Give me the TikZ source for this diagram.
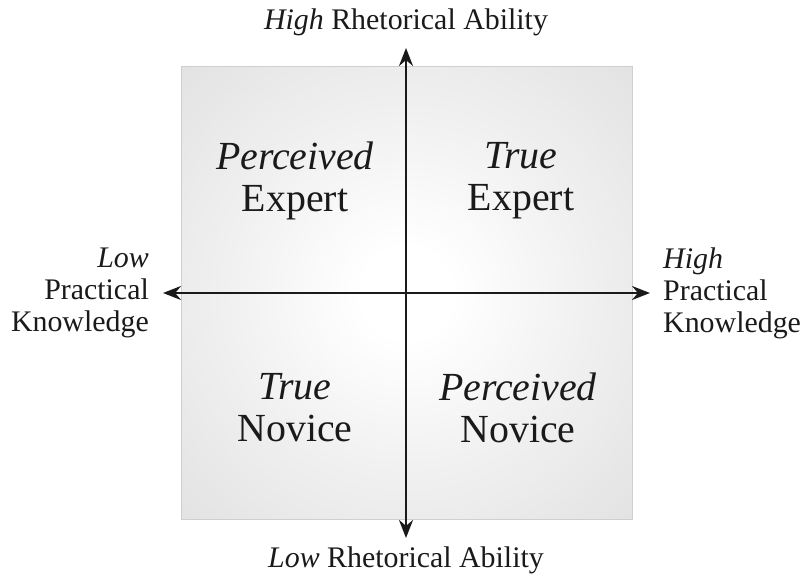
\documentclass[tikz,border=0pt]{standalone}
\usepackage{fontspec}
\setmainfont{Liberation Serif}
\usepackage{xcolor}
\usetikzlibrary{calc}
\usetikzlibrary{arrows.meta}

\definecolor{panelgray}{HTML}{DEDEDE}
\definecolor{panelline}{HTML}{CFCFCF}
\definecolor{axisblack}{HTML}{1A1A1A}
\pgfdeclareradialshading{panelshade}{\pgfpoint{0bp}{0bp}}{color(0bp)=(white); color(5bp)=(white); color(20bp)=(panelgray!45!white); color(35bp)=(panelgray!85!white); color(48bp)=(panelgray); color(100bp)=(panelgray)}

\tikzset{
	quadlabel/.style={align=center, font=\fontsize{40}{42}\selectfont, text=axisblack, inner sep=0pt},
	sidelabel/.style={font=\fontsize{30}{32}\selectfont, text=axisblack, inner sep=0pt},
	axisarrow/.style={axisblack, line width=2.2bp, {Stealth[length=18bp,width=14bp]}-{Stealth[length=18bp,width=14bp]}}
}

\begin{document}
\begin{tikzpicture}[x=1bp, y=-1bp]
		\useasboundingbox (0,0) rectangle (805,578);
		\shade[shading=panelshade] (181,67) rectangle (632,519);
		\draw[panelline, line width=1bp] (181,67) rectangle (632,519);
		\coordinate (top) at (406,48);
		\coordinate (bottom) at (406,538);
		\coordinate (left) at (163,293);
		\coordinate (right) at (650,293);
		\draw[axisarrow] (bottom) -- (top);
		\draw[axisarrow] (left) -- (right);
		\node[quadlabel] (pexpert) at (295,181) {\textit{Perceived}\\Expert};
		\node[quadlabel] (texpert) at (521,181) {\textit{True}\\Expert};
		\node[quadlabel] (tnovice) at (295,408) {\textit{True}\\Novice};
		\node[quadlabel] (pnovice) at (518,408) {\textit{Perceived}\\Novice};
		\node[sidelabel, align=right, anchor=east] (lowpk) at (149,293) {\textit{Low}\\Practical\\Knowledge};
		\node[sidelabel, align=left, anchor=west] (highpk) at (663,293) {\textit{High}\\Practical\\Knowledge};
		\node[sidelabel] (highra) at (406,22) {\textit{High} Rhetorical Ability};
		\node[sidelabel] (lowra) at (406,560) {\textit{Low} Rhetorical Ability};
		\end{tikzpicture}
\end{document}
